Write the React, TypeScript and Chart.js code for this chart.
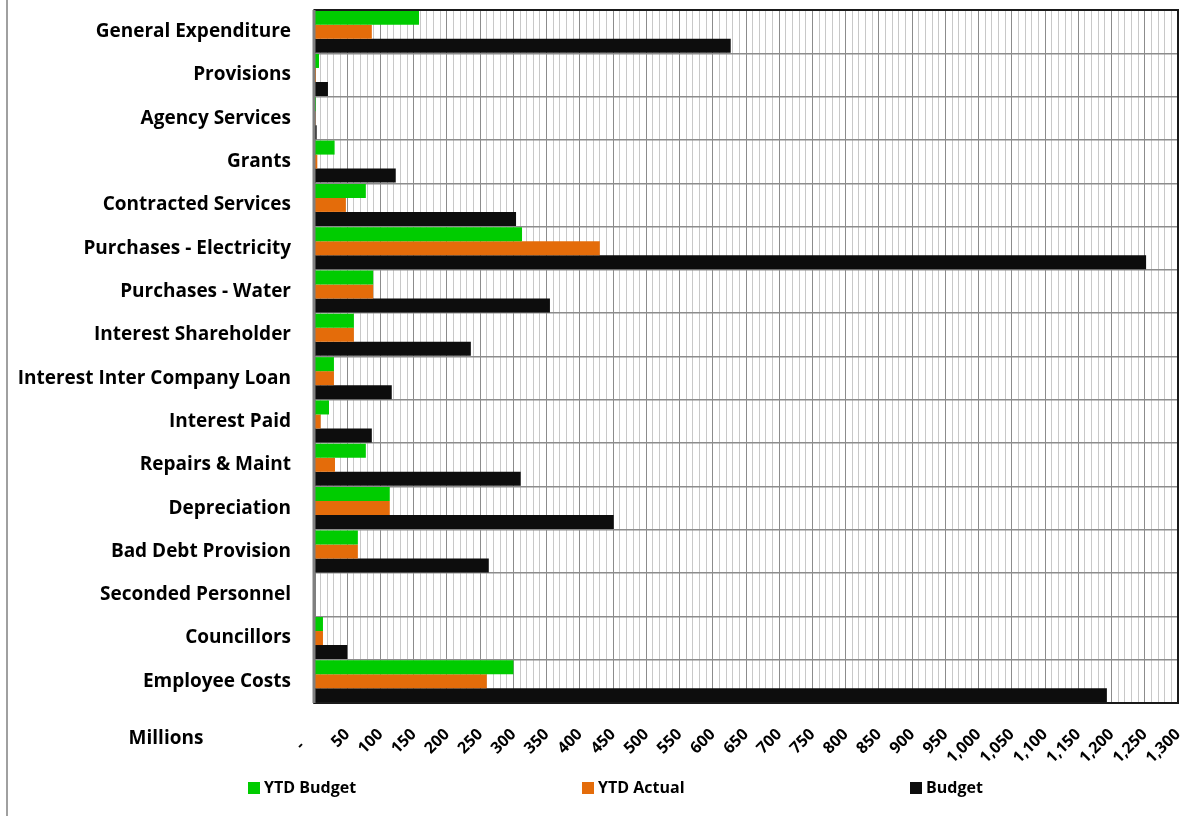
import React, { useEffect, useRef } from "react";
import { Chart, registerables } from "chart.js";

Chart.register(...registerables);

const categories = [
  "General Expenditure",
  "Provisions",
  "Agency Services",
  "Grants",
  "Contracted Services",
  "Purchases - Electricity",
  "Purchases - Water",
  "Interest Shareholder",
  "Interest Inter Company Loan",
  "Interest Paid",
  "Repairs & Maint",
  "Depreciation",
  "Bad Debt Provision",
  "Seconded Personnel",
  "Councillors",
  "Employee Costs",
];

const ytdBudget = [158, 7.5, 3, 31, 78, 313, 89, 60, 30, 22.6, 78, 114, 66, 0, 13.5, 300];
const ytdActual = [87, 3, 2, 5, 48, 430, 89, 60, 30, 10, 31.6, 114, 66, 0, 13.5, 260];
const budget = [627, 21, 4, 123, 304, 1252, 355, 236, 117, 87, 311, 451, 263, 0, 50, 1193];

const seriesNames = ["YTD Budget", "YTD Actual", "Budget"];
const seriesColors = ["#00CC00", "#E46C0A", "#0D0D0D"];

const axisTitle = "Millions";
const xMin = 0;
const xMax = 1300;
const minorStep = 10;
const majorStep = 50;

const FONT = "'Open Sans', Lato, sans-serif";

export default function App() {
  const ref = useRef<HTMLCanvasElement | null>(null);

  useEffect(() => {
    document.body.style.margin = "0";
    const canvas = ref.current;
    if (!canvas) return;

    const decor = {
      id: "decor",
      beforeDraw(chart: any) {
        const ctx = chart.ctx;
        ctx.save();
        ctx.fillStyle = "#ffffff";
        ctx.fillRect(0, 0, chart.width, chart.height);
        ctx.strokeStyle = "#a0a0a0";
        ctx.lineWidth = 2;
        ctx.beginPath();
        ctx.moveTo(7, 0);
        ctx.lineTo(7, chart.height);
        ctx.stroke();
        ctx.restore();
      },
      afterDatasetsDraw(chart: any) {
        const ctx = chart.ctx;
        const a = chart.chartArea;
        ctx.save();
        ctx.strokeStyle = "#1a1a1a";
        ctx.lineWidth = 2;
        ctx.beginPath();
        ctx.moveTo(a.left, a.top);
        ctx.lineTo(a.right, a.top);
        ctx.lineTo(a.right, a.bottom);
        ctx.lineTo(a.left, a.bottom);
        ctx.stroke();
        ctx.strokeStyle = "#808080";
        ctx.lineWidth = 3;
        ctx.beginPath();
        ctx.moveTo(a.left, a.top);
        ctx.lineTo(a.left, a.bottom);
        ctx.stroke();
        ctx.restore();
      },
      afterDraw(chart: any) {
        const ctx = chart.ctx;
        ctx.save();
        ctx.fillStyle = "#000";
        ctx.font = `bold 19px ${FONT}`;
        ctx.textAlign = "center";
        ctx.textBaseline = "middle";
        ctx.fillText(axisTitle, 166, 739);
        const xs = [248, 582, 910];
        ctx.font = `bold 16px ${FONT}`;
        ctx.textAlign = "left";
        chart.data.datasets.forEach((ds: any, i: number) => {
          ctx.fillStyle = ds.backgroundColor;
          ctx.fillRect(xs[i], 782, 12, 12);
          ctx.fillStyle = "#000";
          ctx.fillText(ds.label, xs[i] + 16, 788);
        });
        ctx.restore();
      },
    };

    const chart = new Chart(canvas, {
      type: "bar",
      data: {
        labels: categories,
        datasets: [ytdBudget, ytdActual, budget].map((d, i) => ({
          label: seriesNames[i],
          data: d,
          backgroundColor: seriesColors[i],
          borderWidth: 0,
          categoryPercentage: 0.97,
          barPercentage: 1,
        })),
      },
      options: {
        indexAxis: "y",
        animation: false,
        responsive: false,
        layout: { autoPadding: false, padding: { top: 10, right: 25, left: 0, bottom: 0 } },
        plugins: {
          legend: { display: false },
          tooltip: { enabled: false },
        },
        scales: {
          x: {
            type: "linear",
            position: "bottom",
            min: xMin,
            max: xMax,
            afterFit(scale: any) {
              scale.height = 113;
              scale.paddingLeft = 0;
              scale.paddingRight = 0;
            },
            border: { display: true, color: "#1a1a1a", width: 2 },
            grid: {
              drawTicks: false,
              lineWidth: 1,
              color: (c: any) =>
                c.tick && c.tick.value % majorStep === 0 ? "#8c8c8c" : "#c8c8c8",
            },
            ticks: {
              stepSize: minorStep,
              autoSkip: false,
              minRotation: 45,
              maxRotation: 45,
              padding: 22,
              color: "#000",
              font: { family: FONT, weight: "bold", size: 16 },
              callback: (v: any) => {
                const n = Number(v);
                if (n % majorStep !== 0) return "";
                if (n === 0) return "-    ";
                return n.toLocaleString("en-US");
              },
            },
          },
          y: {
            type: "category",
            afterFit(scale: any) {
              scale.width = 314;
              scale.paddingTop = 0;
              scale.paddingBottom = 0;
            },
            border: { display: true, color: "#808080", width: 3 },
            grid: { drawTicks: false, color: "#8c8c8c", lineWidth: 1.5 },
            ticks: {
              padding: 23,
              color: "#000",
              autoSkip: false,
              font: { family: FONT, weight: "bold", size: 19 },
            },
          },
        },
      },
      plugins: [decor],
    } as any);

    return () => chart.destroy();
  }, []);

  return (
    <div style={{ width: 1203, height: 816 }}>
      <canvas ref={ref} width={1203} height={816} style={{ display: "block" }} />
    </div>
  );
}
